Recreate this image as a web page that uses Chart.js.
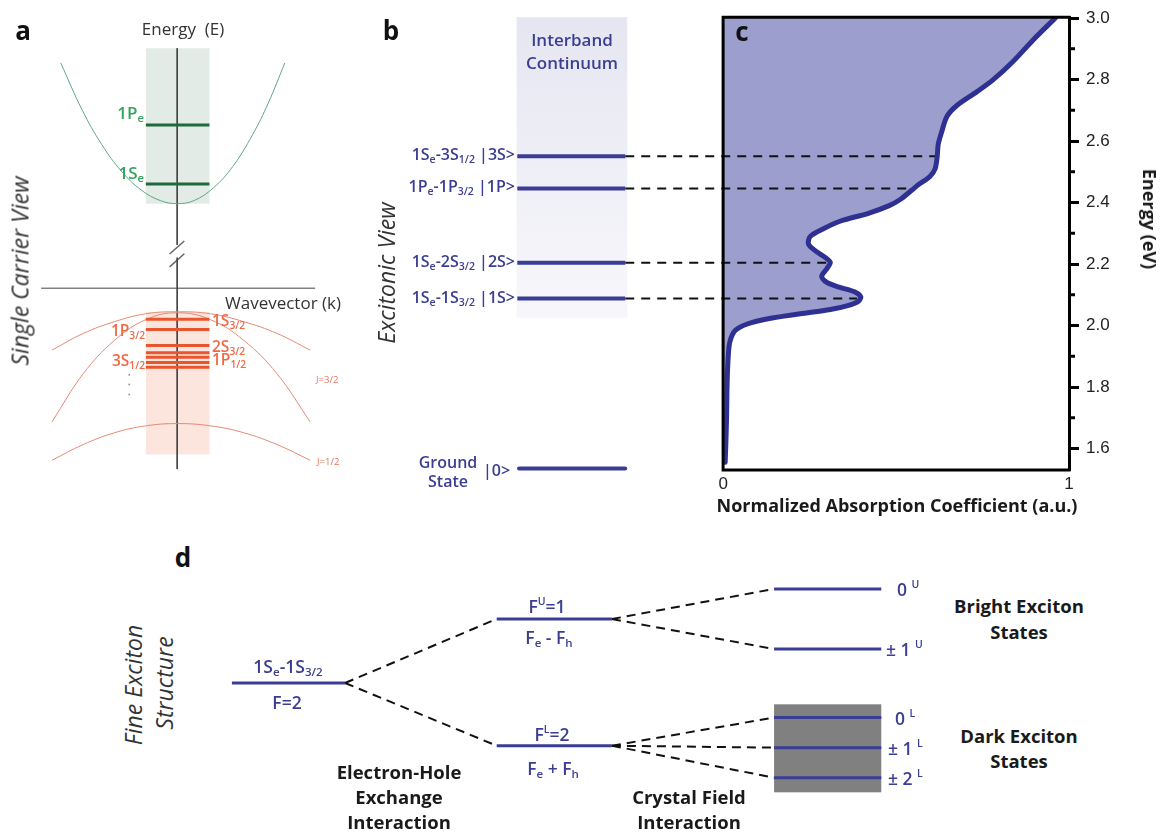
<!DOCTYPE html>
<html>
<head>
<meta charset="utf-8">
<title>Exciton energy structure</title>
<script src="https://cdn.jsdelivr.net/npm/chart.js@4.4.1/dist/chart.umd.min.js"></script>
<style>
  html, body { margin: 0; padding: 0; background: #fff; }
  #fig { position: relative; width: 1161px; height: 832px; overflow: hidden; font-family: "Open Sans", "DejaVu Sans", sans-serif; }
  #fig canvas { position: absolute; }
  .t { position: absolute; white-space: nowrap; line-height: 1; }
  .sb { font-size: 0.66em; position: relative; top: 0.28em; }
  .sp { font-size: 0.6em; position: relative; top: -0.75em; }
  .pl { font-weight: 700; font-size: 26px; color: #111; }
  .ax { font-size: 17px; color: #333; }
  .g  { font-weight: 600; font-size: 17px; color: #35a35d; }
  .r  { font-weight: 600; font-size: 15.5px; color: #ee6a44; }
  .rs { font-size: 9.5px; color: #e5775a; }
  .n  { font-weight: 600; font-size: 16px; color: #3b3e92; }
  .nb { font-weight: 600; font-size: 17px; color: #3b3e92; }
  .nd { font-weight: 600; font-size: 17.5px; color: #3b3e92; }
  .k  { font-weight: 700; font-size: 18.5px; color: #1a1a1a; }
  .kb { font-weight: 700; font-size: 18px; color: #1a1a1a; }
  .rot { font-style: italic; font-size: 23px; color: #333; }
</style>
</head>
<body>
<div id="fig">
  <canvas id="panelA" width="370" height="480" style="left:0;top:0"></canvas>
  <canvas id="panelBC" width="681" height="530" style="left:480px;top:0"></canvas>
  <canvas id="panelD" width="720" height="250" style="left:200px;top:560px"></canvas>
</div>
<script>
// ---------------- Panel c: absorption spectrum (eV vs normalized absorption) ----------------
const absEnergy = [1.555, 1.62, 1.70, 1.78, 1.86, 1.93, 1.96, 1.985, 2.005, 2.022, 2.038, 2.052,
                   2.065, 2.078, 2.093, 2.11, 2.125, 2.14, 2.16, 2.185, 2.205, 2.22, 2.242, 2.265,
                   2.29, 2.315, 2.34, 2.365, 2.39, 2.41, 2.44, 2.46, 2.485, 2.51, 2.55, 2.59,
                   2.63, 2.68, 2.715, 2.76, 2.80, 2.86, 2.93, 3.0];
const absValue  = [0.006, 0.008, 0.010, 0.011, 0.013, 0.017, 0.023, 0.036, 0.07, 0.13, 0.223, 0.31,
                   0.36, 0.39, 0.398, 0.38, 0.335, 0.30, 0.285, 0.300, 0.31, 0.297, 0.268, 0.247,
                   0.252, 0.29, 0.34, 0.42, 0.48, 0.512, 0.545, 0.567, 0.598, 0.613, 0.619, 0.622,
                   0.632, 0.647, 0.675, 0.733, 0.781, 0.839, 0.897, 0.96];
const energyTicks = [1.6, 1.8, 2.0, 2.2, 2.4, 2.6, 2.8, 3.0];
const energyMinorTicks = [1.7, 1.9, 2.1, 2.3, 2.5, 2.7, 2.9];
const absTicks = [0, 1];

// ---------------- Panel b: excitonic transitions ----------------
const excitonStates = ['|3S>', '|1P>', '|2S>', '|1S>'];
const excitonEnergy = [2.551, 2.446, 2.204, 2.088];
const excitonAbsorption = [0.619, 0.541, 0.303, 0.387];   // where each guide meets the spectrum
const groundEnergy = 1.535;

// ---------------- Panel a: single-carrier bands (k, E in arbitrary units) ----------------
const electronLevels = ['1Pe', '1Se'];
const electronEnergy = [1.66, 1.06];
const holeEnergy = [-0.317, -0.42, -0.583, -0.657, -0.703, -0.757, -0.803];
const conductionK = [-1.19, -0.97, -0.77, -0.57, -0.37, -0.17, 0, 0.17, 0.37, 0.57, 0.77, 0.93, 1.10];
const conductionE = [2.29, 1.81, 1.46, 1.19, 1.00, 0.89, 0.86, 0.89, 1.02, 1.24, 1.56, 1.88, 2.29];
const valenceK    = [-1.28, -0.96, -0.64, -0.32, 0, 0.34, 0.68, 1.02, 1.36];
const j32FlatE    = [-0.63, -0.46, -0.34, -0.26, -0.24, -0.26, -0.34, -0.46, -0.63];
const j32SteepE   = [-1.36, -0.87, -0.53, -0.32, -0.25, -0.32, -0.53, -0.87, -1.36];
const j12E        = [-1.75, -1.59, -1.47, -1.40, -1.377, -1.40, -1.47, -1.59, -1.75];
const moreLevelsE = [-0.88, -0.98, -1.08];

// ---------------- Panel d: fine exciton structure ----------------
const fineStates = ['F=2', 'F^U=1', 'F^L=2', '0^U', '±1^U', '0^L', '±1^L', '±2^L'];
const fineEnergy = [0, 1.0, -0.98, 1.47, 0.53, -0.54, -1.01, -1.48];
const fineStage  = [0, 1, 1, 2, 2, 2, 2, 2];
const fineParent = [null, 0, 0, 1, 1, 2, 2, 2];
const darkBand   = [-0.333, -1.708];

// ---------------- layout and styles ----------------
const NAVY = '#3a3d95';
const B_XMIN = -0.645, E_MIN = 1.530, E_MAX = 3.003;
const LEVEL_X = [-0.595, -0.283];
const GROUND_X = [-0.590, -0.283];
const CONTINUUM = { x: [-0.597, -0.277], y: [2.025, E_MAX] };
const A_LEVEL_K = [-0.32, 0.33];
const STAGE_X = [[-0.213, 0.209], [0.775, 1.205], [1.81, 2.21]];

Chart.defaults.animation = false;
Chart.defaults.events = [];
Chart.defaults.font.family = 'Liberation Sans';
Chart.defaults.plugins.legend.display = false;
Chart.defaults.plugins.tooltip.enabled = false;

const seg = (x0, y0, x1, y1) => [{ x: x0, y: y0 }, { x: x1, y: y1 }];
const zip = (xs, ys) => xs.map((x, i) => ({ x, y: ys[i] }));
function line(data, color, width, extra) {
  return Object.assign({ data, borderColor: color, borderWidth: width, showLine: true,
    pointRadius: 0, pointHoverRadius: 0, fill: false, tension: 0, clip: false }, extra || {});
}
const hidden = (min, max) => ({ type: 'linear', display: false, min, max });

// shaded rectangles given in data units
function rectPlugin(rects) {
  return {
    id: 'rects',
    beforeDatasetsDraw(chart) {
      const { x: xs, y: ys } = chart.scales, ctx = chart.ctx;
      for (const r of rects) {
        const L = xs.getPixelForValue(r.x[0]), R = xs.getPixelForValue(r.x[1]);
        const T = ys.getPixelForValue(r.y[1]), B = ys.getPixelForValue(r.y[0]);
        let fs = r.color;
        if (r.fade) {
          fs = ctx.createLinearGradient(0, T, 0, B);
          fs.addColorStop(0, r.color); fs.addColorStop(1, r.fade);
        }
        ctx.save(); ctx.fillStyle = fs; ctx.fillRect(L, T, R - L, B - T); ctx.restore();
      }
    }
  };
}

// area between a curve and x = 0 (the spectrum is plotted sideways)
const areaToZero = {
  id: 'areaToZero',
  beforeDatasetsDraw(chart) {
    const ctx = chart.ctx, a = chart.chartArea, x0 = chart.scales.x.getPixelForValue(0);
    chart.data.datasets.forEach((ds, i) => {
      if (!ds.areaColor) return;
      const ln = chart.getDatasetMeta(i).dataset, pts = ln.points;
      ctx.save();
      ctx.beginPath(); ctx.rect(a.left, a.top, a.width, a.height); ctx.clip();
      ctx.beginPath();
      ln.path(ctx);
      ctx.lineTo(x0, pts[pts.length - 1].y);
      ctx.lineTo(x0, pts[0].y);
      ctx.closePath();
      ctx.fillStyle = ds.areaColor; ctx.fill();
      ctx.restore();
    });
  }
};

// box around the spectrum plus the minor ticks of the energy axis
const spectrumFrame = {
  id: 'spectrumFrame',
  afterDatasetsDraw(chart) {
    const { x: xs, y: ys } = chart.scales, ctx = chart.ctx;
    const L = xs.getPixelForValue(0), R = xs.getPixelForValue(1);
    const T = ys.getPixelForValue(E_MAX), B = ys.getPixelForValue(E_MIN);
    ctx.save();
    ctx.strokeStyle = '#000'; ctx.lineWidth = 3; ctx.lineCap = 'square';
    ctx.beginPath();
    ctx.moveTo(R, T); ctx.lineTo(L, T); ctx.lineTo(L, B); ctx.lineTo(R, B);
    ctx.stroke();
    ctx.restore();
  },
  afterDraw(chart) {
    const ys = chart.scales.y, ctx = chart.ctx, R = chart.chartArea.right;
    ctx.save();
    ctx.strokeStyle = '#000'; ctx.lineWidth = 3;
    ctx.beginPath();
    for (const v of energyMinorTicks) {
      const y = ys.getPixelForValue(v);
      ctx.moveTo(R, y); ctx.lineTo(R + 6, y);
    }
    ctx.stroke();
    ctx.restore();
  }
};

// ---------------- Panel b + c ----------------
new Chart(document.getElementById('panelBC'), {
  type: 'scatter',
  data: {
    datasets: [
      line(zip(absValue, absEnergy), '#2e3192', 5,
        { tension: 0.3, areaColor: '#9c9ecd', borderCapStyle: 'round', borderJoinStyle: 'round', order: 0, clip: undefined }),
      ...excitonEnergy.map(e => line(seg(LEVEL_X[0], e, LEVEL_X[1], e), NAVY, 4, { order: 1 })),
      line(seg(GROUND_X[0], groundEnergy, GROUND_X[1], groundEnergy), NAVY, 4, { borderCapStyle: 'round', order: 1 }),
      ...excitonEnergy.map((e, i) => line(seg(LEVEL_X[1], e, excitonAbsorption[i], e), '#111', 2,
        { borderDash: [9, 7], order: 2 }))
    ]
  },
  options: {
    responsive: false,
    layout: { padding: { left: 20, top: 14, right: 0, bottom: 0 } },
    scales: {
      x: {
        type: 'linear', min: B_XMIN, max: 1,
        afterBuildTicks: s => { s.ticks = absTicks.map(v => ({ value: v })); },
        afterFit: s => { s.height = 60; },
        ticks: { callback: v => String(v), font: { size: 17 }, color: '#222', padding: 4, maxRotation: 0, autoSkip: false },
        grid: { display: false, drawTicks: false },
        border: { display: false }
      },
      y: {
        type: 'linear', position: 'right', min: E_MIN, max: E_MAX,
        afterBuildTicks: s => { s.ticks = energyTicks.map(v => ({ value: v })); },
        afterFit: s => { s.width = 92; },
        ticks: { callback: v => v.toFixed(1), font: { size: 17 }, color: '#222', padding: 7 },
        grid: { drawOnChartArea: false, drawTicks: true, tickLength: 10, tickWidth: 3, tickColor: '#000' },
        border: { display: true, width: 3, color: '#000' }
      }
    }
  },
  plugins: [rectPlugin([{ x: CONTINUUM.x, y: CONTINUUM.y, color: '#e6e6f2', fade: '#f7f7fb' }]), areaToZero, spectrumFrame]
});

// ---------------- Panel a ----------------
new Chart(document.getElementById('panelA'), {
  type: 'scatter',
  data: {
    datasets: [
      ...electronEnergy.map(e => line(seg(A_LEVEL_K[0], e, A_LEVEL_K[1], e), '#1d6b3c', 3)),
      ...holeEnergy.map(e => line(seg(A_LEVEL_K[0], e, A_LEVEL_K[1], e), '#e9552e', 3)),
      line(zip(conductionK, conductionE), '#5fa782', 1, { tension: 0.4 }),
      line(zip(valenceK, j32FlatE), '#e48a74', 1, { tension: 0.4 }),
      line(zip(valenceK, j32SteepE), '#e48a74', 1, { tension: 0.4 }),
      line(zip(valenceK, j12E), '#e48a74', 1, { tension: 0.4 }),
      line(seg(0, 2.44, 0, 0.44), '#444', 1),
      line(seg(0, 0.31, 0, -1.84), '#444', 1),
      line(seg(-1.39, 0, 1.41, 0), '#444', 1),
      line(seg(-0.077, 0.347, 0.073, 0.48), '#666', 1.5),
      line(seg(-0.077, 0.217, 0.073, 0.35), '#666', 1.5),
      { data: moreLevelsE.map(e => ({ x: -0.49, y: e })), showLine: false, pointRadius: 1, backgroundColor: '#999', borderWidth: 0, clip: false }
    ]
  },
  options: {
    responsive: false,
    layout: { padding: 0 },
    scales: { x: hidden(-1.77, 1.93), y: hidden(-1.91, 2.89) }
  },
  plugins: [rectPlugin([
    { x: A_LEVEL_K, y: [0.86, 2.44], color: '#e3ebe6' },
    { x: A_LEVEL_K, y: [-1.69, -0.24], color: '#fce5dd' }
  ])]
});

// ---------------- Panel d ----------------
const fineLevels = fineEnergy.map((e, i) => {
  const s = STAGE_X[fineStage[i]];
  return line(seg(s[0], e, s[1], e), NAVY, 3);
});
const fineLinks = fineEnergy.map((e, i) => {
  if (fineParent[i] === null) return null;
  const p = fineParent[i];
  return line(seg(STAGE_X[fineStage[p]][1], fineEnergy[p], STAGE_X[fineStage[i]][0], e), '#111', 2, { borderDash: [9, 6] });
}).filter(Boolean);

new Chart(document.getElementById('panelD'), {
  type: 'scatter',
  data: { datasets: [...fineLevels, ...fineLinks] },
  options: {
    responsive: false,
    layout: { padding: 0 },
    scales: { x: hidden(-0.3321, 2.3545), y: hidden(-1.9844, 1.9219) }
  },
  plugins: [rectPlugin([{ x: STAGE_X[2], y: darkBand, color: '#808080' }])]
});

// ---------------- text ----------------
const sb = s => '<span class="sb">' + s + '</span>';
const sp = s => '<span class="sp">' + s + '</span>';
const texts = [
  // panel a
  ['a', 23, 30, 'pl'],
  ['Energy &nbsp;(E)', 183, 28, 'ax'],
  ['Wavevector (k)', 283, 302, 'ax'],
  ['1P' + sb('e'), 144, 112, 'g', 'r'],
  ['1S' + sb('e'), 144, 172, 'g', 'r'],
  ['1S' + sb('3/2'), 212, 321, 'r', 'l'],
  ['1P' + sb('3/2'), 145, 331, 'r', 'r'],
  ['2S' + sb('3/2'), 212, 347, 'r', 'l'],
  ['1P' + sb('1/2'), 212, 360, 'r', 'l'],
  ['3S' + sb('1/2'), 145, 361, 'r', 'r'],
  ['J=3/2', 316, 380, 'rs', 'l'],
  ['J=1/2', 317, 462, 'rs', 'l'],
  ['Single Carrier View', 20, 271, 'rot', 'c', -90],
  // panel b
  ['b', 391, 30, 'pl'],
  ['Interband', 572, 39, 'nb'],
  ['Continuum', 572, 62, 'nb'],
  ['1S' + sb('e') + '-3S' + sb('1/2') + ' |3S&gt;', 515, 154, 'n', 'r'],
  ['1P' + sb('e') + '-1P' + sb('3/2') + ' |1P&gt;', 515, 186, 'n', 'r'],
  ['1S' + sb('e') + '-2S' + sb('3/2') + ' |2S&gt;', 515, 261, 'n', 'r'],
  ['1S' + sb('e') + '-1S' + sb('3/2') + ' |1S&gt;', 515, 297, 'n', 'r'],
  ['Ground', 448, 462, 'n'],
  ['State', 448, 481, 'n'],
  ['|0&gt;', 483, 470, 'n', 'l'],
  ['Excitonic View', 386, 273, 'rot', 'c', -90],
  // panel c
  ['c', 742, 31, 'pl'],
  ['Normalized Absorption Coefficient (a.u.)', 897, 505, 'kb'],
  ['Energy (eV)', 1150, 219, 'kb', 'c', 90],
  // panel d
  ['d', 183, 557, 'pl'],
  ['Fine Exciton', 133, 685, 'rot', 'c', -90],
  ['Structure', 164, 683, 'rot', 'c', -90],
  ['1S' + sb('e') + '-1S' + sb('3/2'), 288, 667, 'nd'],
  ['F=2', 287, 703, 'nd'],
  ['F' + sp('U') + '=1', 547, 607, 'nd'],
  ['F' + sb('e') + ' - F' + sb('h'), 549, 638, 'nd'],
  ['F' + sp('L') + '=2', 552, 735, 'nd'],
  ['F' + sb('e') + ' + F' + sb('h'), 553, 769, 'nd'],
  ['0 ' + sp('U'), 897, 590, 'nd', 'l'],
  ['± 1 ' + sp('U'), 886, 650, 'nd', 'l'],
  ['0 ' + sp('L'), 895, 719, 'nd', 'l'],
  ['± 1 ' + sp('L'), 888, 749, 'nd', 'l'],
  ['± 2 ' + sp('L'), 888, 779, 'nd', 'l'],
  ['Bright Exciton', 1019, 606, 'k'],
  ['States', 1019, 632, 'k'],
  ['Dark Exciton', 1019, 736, 'k'],
  ['States', 1019, 761, 'k'],
  ['Electron-Hole', 399, 772, 'k'],
  ['Exchange', 399, 797, 'k'],
  ['Interaction', 399, 822, 'k'],
  ['Crystal Field', 689, 797, 'k'],
  ['Interaction', 689, 822, 'k']
];
const fig = document.getElementById('fig');
for (const [html, x, y, cls, anchor = 'c', rot = 0] of texts) {
  const el = document.createElement('div');
  el.className = 't ' + cls;
  el.innerHTML = html;
  el.style.left = x + 'px';
  el.style.top = y + 'px';
  const tx = anchor === 'l' ? '0' : anchor === 'r' ? '-100%' : '-50%';
  el.style.transform = 'translate(' + tx + ',-50%)' + (rot ? ' rotate(' + rot + 'deg)' : '');
  fig.appendChild(el);
}
</script>
</body>
</html>
